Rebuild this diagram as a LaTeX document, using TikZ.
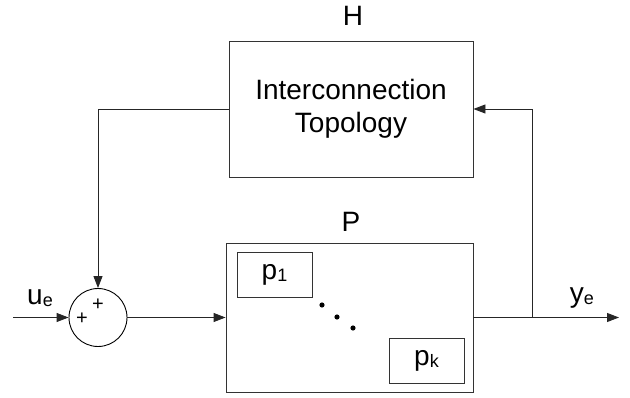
\documentclass[tikz,border=0pt]{standalone}
\usepackage{fontspec}
\setmainfont{Liberation Sans}
\usetikzlibrary{arrows.meta}
\begin{document}
\begin{tikzpicture}[x=1pt,y=-1pt,
  line width=0.9pt,
  blk/.style={draw=black!80, rectangle, inner sep=0pt, font=\fontsize{28}{33}\selectfont, align=center},
  subblk/.style={draw=black!80, rectangle, inner sep=0pt, minimum width=75pt, minimum height=45pt, font=\fontsize{28}{33}\selectfont},
  sumnode/.style={draw=black, circle, inner sep=0pt, minimum size=58pt},
  lbl/.style={inner sep=0pt, font=\fontsize{28}{33}\selectfont},
  plus/.style={inner sep=0pt, font=\fontsize{20}{20}\selectfont},
  sig/.style={draw=black!85, -{Triangle[length=12pt,width=9pt]}},
  wire/.style={draw=black!85}
]
\useasboundingbox (0,0) rectangle (630,398);
\newcommand{\sbs}[1]{\raisebox{-2pt}{\fontsize{18}{18}\selectfont #1}}

\node[blk, minimum width=244pt, minimum height=136pt] (H) at (351,109) {Interconnection\\Topology};
\node[blk, minimum width=247pt, minimum height=149pt] (P) at (349.5,317.5) {};
\node[subblk] (p1) at (274.5,274.5) {p\sbs{1}};
\node[subblk] (pk) at (426.5,360.5) {p\sbs{k}};
\node[sumnode] (S) at (98,317.5) {};

\node[lbl] (Hl) at (353,16) {H};
\node[lbl] (Pl) at (351,222) {P};
\node[lbl] (ue) at (40,298) {u\sbs{e}};
\node[lbl] (ye) at (582,298) {y\sbs{e}};
\node[plus] (pl1) at (82,319) {+};
\node[plus] (pl2) at (98,305) {+};

\fill (322,305) circle (2.6pt) (337,317) circle (2.6pt) (353,328) circle (2.6pt);

\coordinate (in) at (13,317.5);
\coordinate (out) at (619,317.5);
\coordinate (br) at (532,317.5);
\coordinate (lt) at (98,108);

\draw[sig] (in) -- (S.west);
\draw[sig] (S.east) -- (P.west);
\draw[sig] (P.east) -- (out);
\draw[sig] (br) |- (H.east);
\draw[sig] (H.west) -| (S.north);
\end{tikzpicture}
\end{document}
